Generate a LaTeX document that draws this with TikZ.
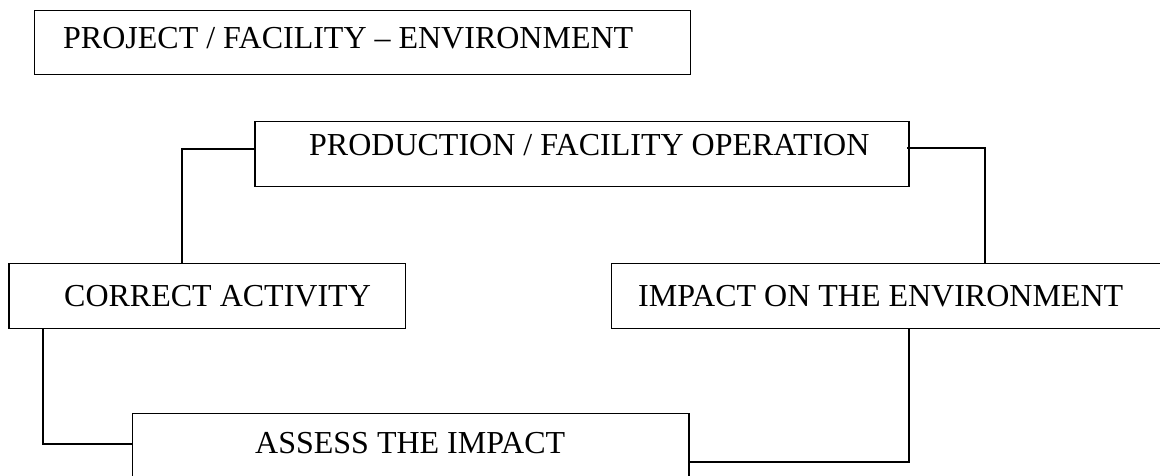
\documentclass[tikz,border=0pt]{standalone}
\usepackage{fontspec}
\setmainfont{Liberation Serif}
\usetikzlibrary{calc}
\begin{document}
\begin{tikzpicture}[x=1pt,y=-1pt,
  box/.style={draw, line width=1.2pt, inner sep=0pt, anchor=north west},
  lbl/.style={anchor=base west, inner sep=0pt, font=\fontsize{32}{38}\selectfont},
  conn/.style={line width=1.2pt}]
\clip (0,0) rectangle (1160,475);
\fill[white] (0,0) rectangle (1160,475);
% boxes
\node[box, minimum width=656pt, minimum height=64pt] (proj) at (34,10) {};
\node[box, minimum width=654pt, minimum height=65pt] (prod) at (254.3,121) {};
\node[box, minimum width=396.3pt, minimum height=65pt] (corr) at (8.3,263) {};
\node[box, minimum width=552pt, minimum height=65pt] (imp) at (610.7,263) {};
\node[box, minimum width=556.6pt, minimum height=70pt] (ass) at (131.7,413) {};
% labels
\node[lbl] (projt) at (63,48) {PROJECT / FACILITY \textendash\ ENVIRONMENT};
\node[lbl] (prodt) at (309,155) {PRODUCTION / FACILITY OPERATION};
\node[lbl] (corrt) at (64,306.5) {CORRECT ACTIVITY};
\node[lbl] (impt) at (638,306.5) {IMPACT ON THE ENVIRONMENT};
\node[lbl] (asst) at (255,453) {ASSESS THE IMPACT};
% connectors
\draw[conn] ($(prod.north west)+(0,28)$) -| ($(corr.north west)+(173.7,0)$);
\draw[conn] ($(prod.north east)+(-2.5,27)$) -| ($(imp.north west)+(374.3,0)$);
\draw[conn] ($(imp.south west)+(298.3,0)$) |- ($(ass.north east)+(0,49)$);
\draw[conn] ($(corr.south west)+(34.7,0)$) |- ($(ass.north west)+(0,31)$);
\end{tikzpicture}
\end{document}
